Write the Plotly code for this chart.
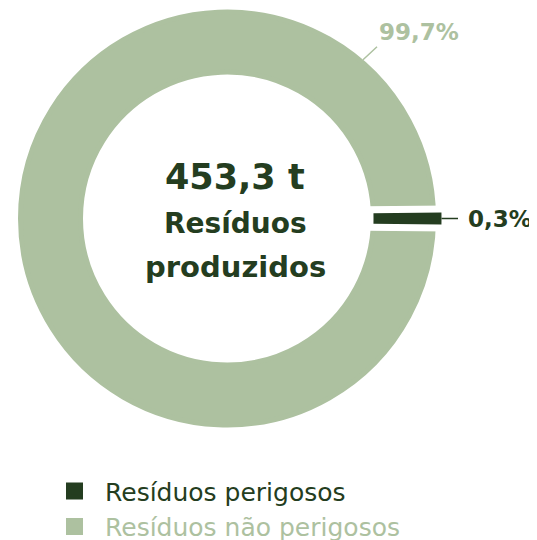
import math
import plotly.graph_objects as go

# ---- data ----
categories = ["Resíduos perigosos", "Resíduos não perigosos"]
shares = [0.3, 99.7]
total_label = "453,3 t"
center_lines = ["Resíduos", "produzidos"]

DARK = "#243d20"
LIGHT = "#adc1a0"
colors = [DARK, LIGHT]
CLEAR = "rgba(0,0,0,0)"

# ---- geometry (in page pixels; the page body has an 8px margin) ----
OFF = 8
PW, PH = 537, 540
W, H = PW - OFF, PH - OFF


def px(x, y):
    return (x - OFF) / W, 1 - (y - OFF) / H


def clamp(v):
    return min(1.0, max(0.0, v))


cx, cy = 227, 218.5
R = 206.5               # radius of filled ring (stroke adds 2.5px)
r_in = 146.5
hole = r_in / R
pull_px = 4
pull = pull_px / R
half = R * (1 + pull)
dx0, dy0 = px(cx - half, cy + half)
dx1, dy1 = px(cx + half, cy - half)
domain = dict(x=[clamp(dx0), clamp(dx1)], y=[clamp(dy0), clamp(dy1)])

small_deg = shares[0] / sum(shares) * 360
rotation = 90 - small_deg / 2


def fmt(v):
    return f"{v:.1f}".replace(".", ",") + "%"


legend_labels = [f"<span style='color:{c}'>{l}</span>" for l, c in zip(categories, colors)]

common = dict(values=shares, sort=False, direction="clockwise", rotation=rotation,
              hole=hole, domain=domain, pull=[pull, 0], textinfo="none",
              hoverinfo="label+percent")

fig = go.Figure()
# base ring (also provides legend)
fig.add_trace(go.Pie(labels=legend_labels, showlegend=True,
                     marker=dict(colors=colors, line=dict(color=colors, width=[5, 5])),
                     **common))
# white gap around small slice
fig.add_trace(go.Pie(labels=categories, showlegend=False,
                     marker=dict(colors=["white", CLEAR], line=dict(color=["white", CLEAR], width=[22, 0])),
                     **common))
# small dark slice on top
fig.add_trace(go.Pie(labels=categories, showlegend=False,
                     marker=dict(colors=[DARK, CLEAR], line=dict(color=[DARK, CLEAR], width=[8, 0])),
                     **common))

annotations = []
font_b = "DejaVu Sans"
# center texts
cxt = 235
for yy, t, fs in zip([177.5, 223, 267.5], [total_label] + center_lines, [35, 28, 29]):
    ax_, ay_ = px(cxt, yy)
    annotations.append(dict(x=ax_, y=ay_, xref="paper", yref="paper", showarrow=False,
                            xanchor="center", yanchor="middle",
                            text=f"<b>{t}</b>", font=dict(family=font_b, size=fs, color=DARK)))

# 0,3% label: head at outer end of the pulled dark bar
ang = math.radians(90)
rr = R + pull_px + 4
hx, hy = cx + rr * math.sin(ang), cy - rr * math.cos(ang)
x0, y0 = px(hx, hy)
annotations.append(dict(x=x0, y=y0, xref="paper", yref="paper", showarrow=True,
                        ax=466 - hx, ay=0, startstandoff=8,
                        arrowhead=0, arrowwidth=1.5, arrowcolor=DARK, xanchor="left", yanchor="middle",
                        borderpad=1, text=f"<b>{fmt(shares[0])}</b>",
                        font=dict(family=font_b, size=23, color=DARK)))
# 99,7% label
ang2 = math.radians(40.6)
rr2 = R + 2.5
hx2, hy2 = cx + rr2 * math.sin(ang2), cy - rr2 * math.cos(ang2)
x1, y1 = px(hx2, hy2)
annotations.append(dict(x=x1, y=y1, xref="paper", yref="paper", showarrow=True, ax=14, ay=-13,
                        arrowhead=0, arrowwidth=1.5, arrowcolor=LIGHT, xanchor="left", yanchor="bottom",
                        borderpad=1, text=f"<b>{fmt(shares[1])}</b>",
                        font=dict(family=font_b, size=23, color=LIGHT)))

lx, ly = px(44, 468.25)
fig.update_layout(
    width=W, height=H,
    margin=dict(l=0, r=0, t=0, b=0, autoexpand=False),
    paper_bgcolor="white", plot_bgcolor="white",
    annotations=annotations,
    legend=dict(x=lx, y=ly, xanchor="left", yanchor="top",
                font=dict(family="DejaVu Sans", size=25, color=DARK),
                itemwidth=51, bgcolor=CLEAR, traceorder="normal"),
)

post = ("document.querySelectorAll('.pielayer path').forEach(function(p){"
        "p.style.strokeLinejoin='miter';p.style.strokeMiterlimit='10';});")
fig.write_html("out.html", post_script=post)
